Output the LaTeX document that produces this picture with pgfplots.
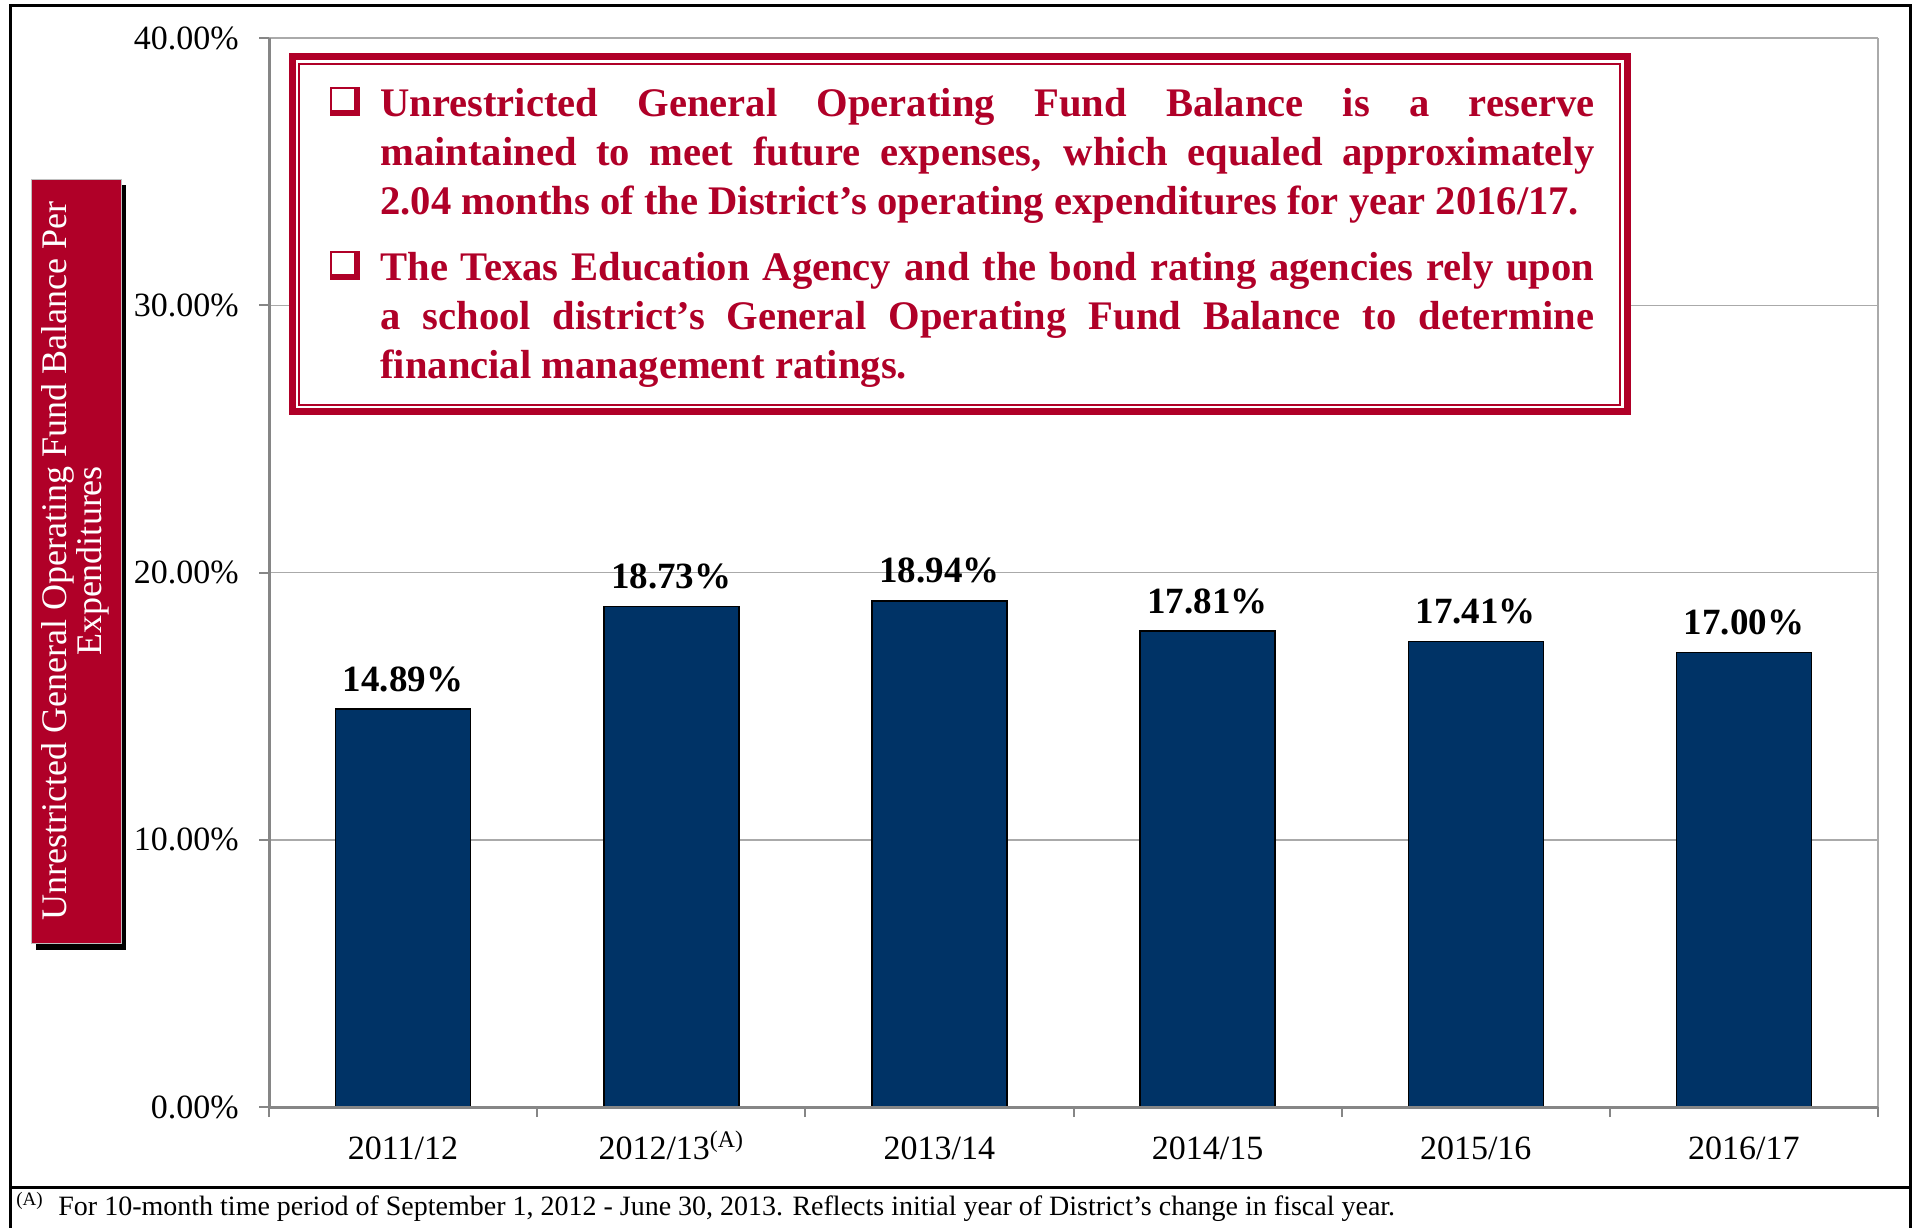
\documentclass[border=0pt]{standalone}
\usepackage{pgfplots}
\pgfplotsset{compat=1.18}
\usepackage{fontspec}
\setmainfont{Liberation Serif}
\definecolor{boxred}{RGB}{176,0,40}
\definecolor{barnavy}{RGB}{0,51,102}
\definecolor{axgray}{RGB}{134,134,134}
\definecolor{gridgray}{RGB}{170,170,170}
\newcommand{\tightlines}{\setlength{\lineskiplimit}{-20pt}\setlength{\lineskip}{0pt}}
\begin{document}
\tightlines
\begin{tikzpicture}
\useasboundingbox (0,0) rectangle (957.5pt,-613.5pt);
\begin{axis}[
  at={(134.5pt,-553.5pt)}, anchor=south west,
  scale only axis, width=804.5pt, height=534.5pt,
  xmin=-0.5, xmax=5.5, ymin=0, ymax=40,
  axis line style={draw=none},
  xtick pos=bottom, ytick pos=left,
  tick align=outside,
  major tick length=5pt,
  tick style={draw=axgray, line width=1pt},
  /pgf/number format/assume math mode=true,
  ytick={0,10,20,30,40},
  yticklabel={\pgfmathprintnumber[fixed,fixed zerofill,precision=2]{\tick}\%},
  xtick={-0.5,0.5,1.5,2.5,3.5,4.5,5.5},
  xticklabels={2011/12, 2012/13\textsuperscript{(A)}, 2013/14, 2014/15, 2015/16, 2016/17, {}},
  ticklabel style={font=\fontsize{17}{20}\selectfont, text=black},
  yticklabel style={anchor=east, inner sep=0pt, xshift=-10pt},
  xticklabel style={anchor=base, inner sep=0pt, xshift=67.04pt, yshift=-21.3pt},
  ymajorgrids, xmajorgrids=false,
  major grid style={draw=gridgray, line width=0.75pt},
  ybar, bar width=67.5pt,
  nodes near coords={\pgfmathprintnumber[fixed,fixed zerofill,precision=2]{\pgfplotspointmeta}\%},
  every node near coord/.append style={font=\bfseries\fontsize{18.5}{22}\selectfont, text=black, anchor=base, inner sep=0pt, yshift=9pt},
  clip=false,
]
\addplot[fill=barnavy, draw=black, line width=0.75pt] coordinates {(0,14.89) (1,18.73) (2,18.94) (3,17.81) (4,17.41) (5,17.00)};
\draw[gridgray, line width=1pt] (rel axis cs:1,0) -- (rel axis cs:1,1);
\draw[axgray, line width=1.5pt] (rel axis cs:0,0) -- (rel axis cs:1,0);
\draw[axgray, line width=1.5pt] (rel axis cs:0,0) -- (rel axis cs:0,1);
\end{axis}
% outer frame
\draw[black, line width=1.5pt] (5pt,-2.5pt) rectangle (955pt,-593.5pt);
\draw[black, line width=1.5pt] (5pt,-593.5pt) -- (5pt,-615pt);
\draw[black, line width=1.5pt] (955pt,-593.5pt) -- (955pt,-615pt);
% text box
\fill[white] (144.5pt,-26.5pt) rectangle (815.5pt,-207.5pt);
\draw[boxred, line width=3.5pt] (146.25pt,-28.25pt) rectangle (813.75pt,-205.75pt);
\draw[boxred, line width=1pt] (149.5pt,-31.75pt) rectangle (810pt,-202.25pt);
\fill[boxred] (165pt,-43.5pt) rectangle (180pt,-58pt);
\fill[white] (166.2pt,-44.7pt) rectangle (177pt,-55pt);
\fill[boxred] (165pt,-125.5pt) rectangle (180pt,-140pt);
\fill[white] (166.2pt,-126.7pt) rectangle (177pt,-137pt);
\node[anchor=base west, inner sep=0pt, text=boxred] at (190pt,-58pt) {%
\begin{minipage}[t]{607pt}\bfseries\fontsize{20.3}{24.5}\selectfont
\setlength{\parskip}{8.5pt}\hyphenpenalty=10000\exhyphenpenalty=10000
Unrestricted General Operating Fund Balance is a reserve\linebreak
maintained to meet future expenses, which equaled approximately\linebreak
2.04 months of the District’s operating expenditures for year 2016/17.\par
The Texas Education Agency and the bond rating agencies rely upon\linebreak
a school district’s General Operating Fund Balance to determine\linebreak
financial management ratings.\end{minipage}};
% y label box
\fill[black] (18pt,-92.5pt) rectangle (63pt,-475pt);
\fill[boxred] (15.5pt,-89.5pt) rectangle (60.5pt,-471.5pt);
\draw[gray!50, line width=0.4pt] (15.5pt,-89.5pt) rectangle (60.5pt,-471.5pt);
\node[rotate=90, text=white, align=center, inner sep=0pt, font=\fontsize{18}{17.5}\selectfont] at (37.5pt,-280.5pt) {Unrestricted General Operating Fund Balance Per\\Expenditures};
% footnote
\node[anchor=base west, inner sep=0pt, font=\fontsize{9.5}{11}\selectfont] at (8pt,-602.5pt) {(A)};
\node[anchor=base west, inner sep=0pt, font=\fontsize{14}{16}\selectfont] at (29pt,-607.5pt) {For 10-month time period of September 1, 2012 - June 30, 2013. Reflects initial year of District’s change in fiscal year.};
\end{tikzpicture}
\end{document}
